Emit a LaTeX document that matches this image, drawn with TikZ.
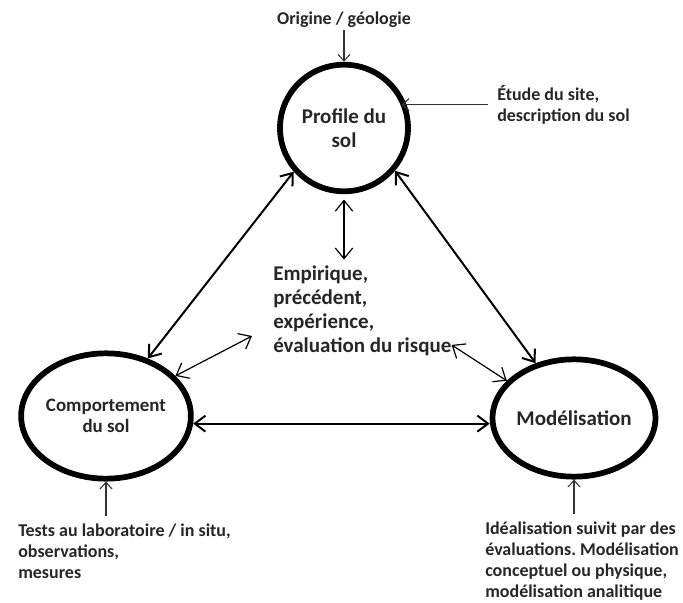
\documentclass[tikz,border=0pt]{standalone}
\usepackage{fontspec}
\setmainfont{Carlito}
\frenchspacing
\usetikzlibrary{arrows.meta,shapes.geometric}

\begin{document}
\begin{tikzpicture}[x=.75pt,y=-.75pt,
	cercle/.style={draw,ellipse,line width=4.3pt,inner sep=0pt,align=center,text=black!85},
	lab/.style={inner sep=0pt,align=left,text=black!85,font=\fontsize{13.5}{15.6}\selectfont\bfseries},
	fleche/.style={draw=black!80,line width=.8pt,-{Straight Barb[length=5pt,width=9pt]}},
	bigarr/.style={line width=1.5pt,{Straight Barb[length=8pt,width=12pt]}-{Straight Barb[length=8pt,width=12pt]}},
	smallarr/.style={line width=.9pt,{Straight Barb[length=8pt,width=13pt]}-{Straight Barb[length=8pt,width=13pt]}}]
\useasboundingbox (0,0) rectangle (683,603);
%circles
\node[cercle,minimum width=96pt,minimum height=95pt,font=\fontsize{15.75}{18}\selectfont\bfseries] (profil) at (344,128) {Profile du\\sol};
\node[cercle,minimum width=100pt,minimum height=94pt,font=\fontsize{14.2}{15.5}\selectfont\bfseries] (comport) at (106,416) {Comportement\\du sol};
\node[cercle,minimum width=102pt,minimum height=88pt,font=\fontsize{15.75}{18}\selectfont\bfseries] (model) at (574,418) {Mod\'elisation};
%labels
\node[lab,anchor=base] (origine) at (344,24) {Origine / g\'eologie};
\node[lab,anchor=north west] (etude) at (497,85) {\'Etude du site,\\description du sol};
\node[lab,anchor=north west,font=\fontsize{15.75}{18}\selectfont\bfseries] (empir) at (273,265) {Empirique,\\pr\'ec\'edent,\\exp\'erience,\\\'evaluation du risque};
\node[lab,anchor=north west] (tests) at (18,524) {Tests au laboratoire / in situ,\\observations,\\mesures};
\node[lab,anchor=north west] (ideal) at (485,522) {Id\'ealisation suivit par des\\\'evaluations. Mod\'elisation\\conceptuel ou physique,\\mod\'elisation analitique};
%inputs
\draw[fleche,shorten <=2pt] (origine.south) -- (profil.north);
\draw[fleche] ([xshift=-7pt]etude.west) -- ([xshift=-7pt]etude.west -| profil.east);
\draw[fleche,shorten <=6pt] (tests.north -| comport.south) -- (comport.south);
\draw[fleche,shorten <=6pt] (ideal.north -| model.south) -- (model.south);
%triangle
\draw[bigarr] (profil.221) -- (comport.54);
\draw[bigarr] (profil.320) -- (model.125);
\draw[bigarr] (comport.-5) -- (comport.-5 -| model.west);
%centre
\coordinate (gauche) at (252,336);
\draw[smallarr,shorten <=4pt,shorten >=4pt] (profil.south) -- (profil.south |- empir.north);
\draw[smallarr] (comport.30) -- (gauche);
\draw[smallarr] ([yshift=8pt]empir.south east) -- (model.151);
\end{tikzpicture}
\end{document}
